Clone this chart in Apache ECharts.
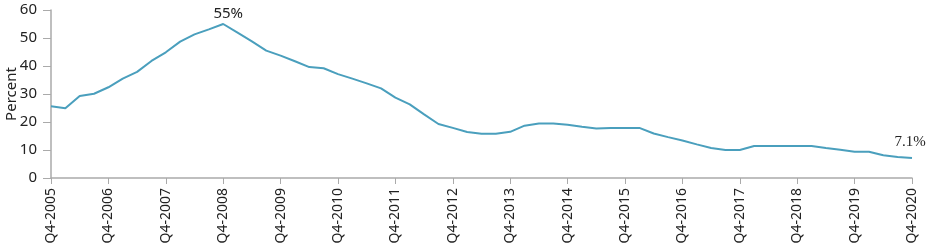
<!DOCTYPE html>
<html>
<head>
<meta charset="utf-8">
<script src="https://cdn.jsdelivr.net/npm/echarts@6/dist/echarts.min.js"></script>
<style>html,body{margin:0;padding:0;background:#fff;}#c{width:930px;height:250px;}</style>
</head>
<body>
<div id="c"></div>
<script>
const categories = [];
for (let y = 2005; y <= 2020; y++) {
  if (y === 2005) { categories.push('Q4-2005'); continue; }
  for (let q = 1; q <= 4; q++) categories.push('Q' + q + '-' + y);
}
const values = [
  25.6,
  24.9, 29.3, 30.1, 32.4,
  35.5, 37.9, 41.8, 44.9,
  48.7, 51.3, 53.1, 55.0,
  51.9, 48.8, 45.5, 43.7,
  41.7, 39.6, 39.2, 37.1,
  35.5, 33.8, 32.0, 28.7,
  26.3, 22.7, 19.3, 17.9,
  16.4, 15.8, 15.8, 16.5,
  18.7, 19.5, 19.5, 19.0,
  18.3, 17.7, 17.9, 17.9,
  17.9, 15.9, 14.6, 13.4,
  12.0, 10.7, 10.0, 10.0,
  11.4, 11.4, 11.4, 11.4,
  11.4, 10.7, 10.1, 9.4,
  9.4, 8.1, 7.5, 7.1
];
const annotations = { 'Q4-2008': '55%', 'Q4-2020': '7.1%' };
const yTicks = [0, 10, 20, 30, 40, 50, 60];

const markData = categories.map((cat, i) => {
  if (!annotations[cat]) return null;
  const isEnd = i === values.length - 1;
  return {
    coord: [cat, values[i]],
    symbol: 'circle',
    symbolSize: 2,
    itemStyle: { color: 'rgba(0,0,0,0)' },
    label: {
      show: true,
      position: 'top',
      formatter: annotations[cat],
      distance: isEnd ? 8 : 2,
      offset: isEnd ? [-2, 0] : [5, 0],
      color: '#222',
      fontSize: 15,
      fontFamily: isEnd ? 'Liberation Serif' : 'Noto Sans'
    }
  };
}).filter(d => d);

const chart = echarts.init(document.getElementById('c'), null, { renderer: 'canvas' });
chart.setOption({
  animation: false,
  textStyle: { fontFamily: 'Noto Sans' },
  grid: { left: 51, right: 18, top: 10, bottom: 72, outerBoundsMode: 'none', containLabel: false },
  xAxis: {
    type: 'category',
    data: categories,
    boundaryGap: false,
    axisLine: { lineStyle: { color: '#aaaaaa', width: 1.5 } },
    axisTick: { show: true, interval: (idx, v) => v.startsWith('Q4'), length: 6, lineStyle: { color: '#aaaaaa' } },
    axisLabel: {
      interval: (idx, v) => v.startsWith('Q4'),
      rotate: 90,
      margin: 10,
      color: '#222',
      fontSize: 14,
      fontFamily: 'Noto Sans'
    },
    splitLine: { show: false }
  },
  yAxis: {
    type: 'value',
    min: yTicks[0],
    max: yTicks[yTicks.length - 1],
    interval: 10,
    name: 'Percent',
    nameLocation: 'middle',
    nameGap: 32,
    nameMoveOverlap: false,
    nameTextStyle: { color: '#222', fontSize: 15, fontFamily: 'Noto Sans' },
    axisLine: { show: true, lineStyle: { color: '#aaaaaa', width: 1.5 } },
    axisTick: { show: true, length: 8, lineStyle: { color: '#aaaaaa' } },
    axisLabel: { color: '#222', fontSize: 15, fontFamily: 'Noto Sans', margin: 14 },
    splitLine: { show: false }
  },
  series: [{
    type: 'line',
    data: values,
    showSymbol: false,
    symbol: 'none',
    lineStyle: { color: '#4a9fbd', width: 2 },
    itemStyle: { color: '#4a9fbd' },
    markPoint: { silent: true, data: markData }
  }]
});
</script>
</body>
</html>
